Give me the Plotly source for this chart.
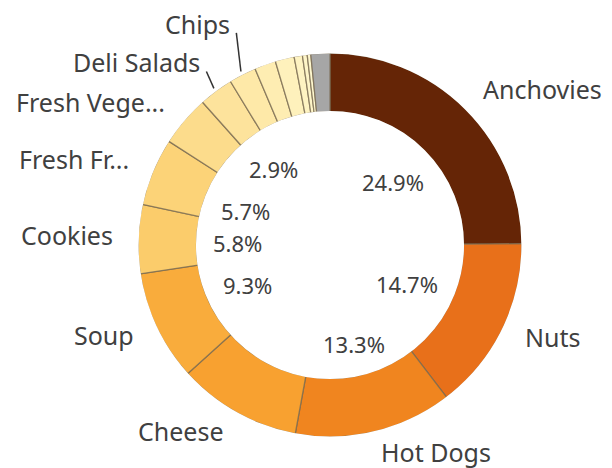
import math
import plotly.graph_objects as go

# ---- data ----
categories = ["Anchovies", "Nuts", "Hot Dogs", "Cheese", "Soup", "Cookies",
              "Fresh Fruit", "Fresh Vegetables", "Deli Salads", "Chips",
              "Bagels", "Jam", "Muffins", "Sugar", "Eggs", "Others"]
values = [24.9, 14.7, 13.3, 10.4, 9.3, 5.8, 5.7, 4.3, 2.9, 2.3,
          1.8, 1.6, 0.7, 0.4, 0.3, 1.6]
outer_labels = ["Anchovies", "Nuts", "Hot Dogs", "Cheese", "Soup", "Cookies",
                "Fresh Fr...", "Fresh Vege...", "Deli Salads", "Chips",
                "", "", "", "", "", ""]
show_percent = [True, True, True, False, True, True, True, False, True, False,
                False, False, False, False, False, False]
colors = ["#652506", "#E8701A", "#F0851F", "#F8A130", "#F9AC3C", "#FBCC6B",
          "#FCD378", "#FCDC8C", "#FDE39C", "#FEE9A8", "#FEEDB2", "#FEF1BC",
          "#FEF3C2", "#FEF5C8", "#FEF7CE", "#A6A6A6"]
label_lift = {"Deli Salads": 6, "Chips": 26}

# ---- geometry (page has an 8px body margin) ----
OFF = 8
W, H = 612 - OFF, 468 - OFF
CX, CY, R = 330 - OFF, 245 - OFF, 192
HOLE = 0.695
FONT = "Noto Sans"
TXT = "#404040"

def px(x):
    return x / W

def py(y):
    return 1 - y / H

fig = go.Figure(go.Pie(
    values=values, labels=categories, sort=False, direction="clockwise",
    rotation=0, hole=HOLE, textinfo="none", hoverinfo="label+percent",
    marker=dict(colors=colors, line=dict(color="rgba(120,105,80,0.75)", width=1.3)),
    domain=dict(x=[px(CX - R), px(CX + R)], y=[py(CY + R), py(CY - R)]),
    showlegend=False,
))

annotations = []
shapes = []
# white rims hide the slice outlines on the outer and inner arcs
for rr in (R + 0.6, R * HOLE - 0.6):
    shapes.append(dict(type="circle", xref="paper", yref="paper", layer="above",
                       x0=px(CX - rr), x1=px(CX + rr), y0=py(CY + rr), y1=py(CY - rr),
                       line=dict(color="white", width=2.4)))

total = sum(values)
cum = 0.0
for name, v, lab, showp in zip(categories, values, outer_labels, show_percent):
    mid = math.radians((cum + v / 2) / total * 360)
    cum += v
    s, c = math.sin(mid), math.cos(mid)
    if lab:
        r = R + 24
        lx = CX + r * s
        ly = CY - r * c - label_lift.get(lab, 0)
        annotations.append(dict(
            x=px(lx), y=py(ly - 3), xref="paper", yref="paper", text=lab,
            showarrow=False, xanchor="left" if s > 0 else "right",
            yanchor="middle", borderpad=0,
            font=dict(family=FONT, size=25, color=TXT)))
        if lab in label_lift:
            r0 = R + 3
            shapes.append(dict(
                type="line", xref="paper", yref="paper",
                x0=px(CX + r0 * s), y0=py(CY - r0 * c),
                x1=px(lx + 5), y1=py(ly + 6),
                line=dict(color="#333333", width=1.5)))
    if showp:
        t = f"{v / total * 100:.1f}%"
        w = len(t) * 11.8
        rc = R * HOLE - 17 - (abs(s) * w / 2 + abs(c) * 8.5)
        annotations.append(dict(
            x=px(CX + rc * s), y=py(CY - rc * c + 1), xref="paper", yref="paper",
            text=t, showarrow=False, xanchor="center", yanchor="middle",
            font=dict(family=FONT, size=22, color=TXT)))

fig.update_layout(
    width=W, height=H, margin=dict(l=0, r=0, t=0, b=0),
    paper_bgcolor="white", plot_bgcolor="white",
    annotations=annotations, shapes=shapes,
)
fig.write_html("out.html")
